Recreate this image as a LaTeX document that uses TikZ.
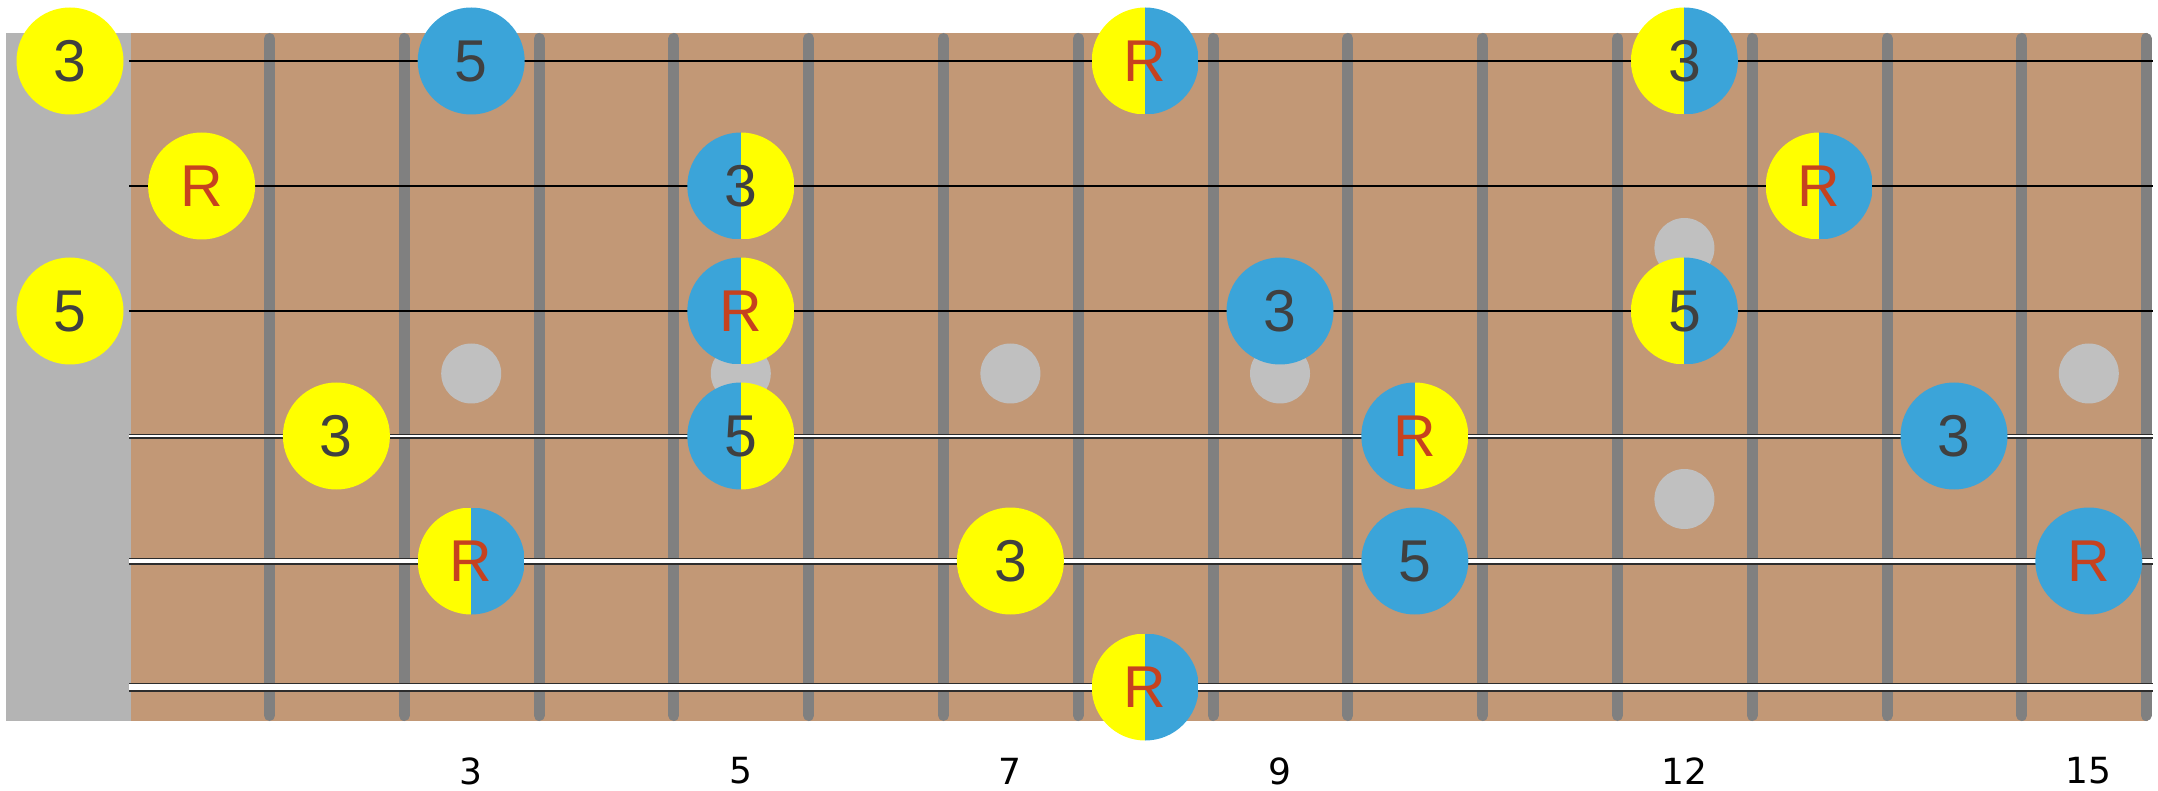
\documentclass[tikz,border=0pt]{standalone}
\usepackage{fontspec}
\setmainfont{Liberation Sans}
\newfontfamily\fretfont{DejaVu Sans}
\definecolor{wood}{RGB}{194,152,118}
\definecolor{nutgray}{RGB}{180,180,180}
\definecolor{fretgray}{RGB}{128,128,128}
\definecolor{dotgray}{RGB}{192,192,192}
\definecolor{yel}{RGB}{255,255,0}
\definecolor{blu}{RGB}{59,164,217}
\definecolor{numtxt}{RGB}{64,64,64}
\definecolor{roottxt}{RGB}{198,66,31}
\definecolor{strdark}{RGB}{45,45,45}
\begin{document}
\begin{tikzpicture}[x=1pt,y=-1pt,
  note/.style={circle, minimum size=107pt, inner sep=0pt, font=\fontsize{59}{60}\selectfont, text=numtxt},
  nY/.style={note, fill=yel},
  nB/.style={note, fill=blu},
  nYB/.style={note, path picture={
     \fill[yel] (path picture bounding box.south west) rectangle (path picture bounding box.north);
     \fill[blu] (path picture bounding box.south) rectangle (path picture bounding box.north east);}},
  nBY/.style={note, path picture={
     \fill[blu] (path picture bounding box.south west) rectangle (path picture bounding box.north);
     \fill[yel] (path picture bounding box.south) rectangle (path picture bounding box.north east);}},
  root/.style={text=roottxt},
  fretwire/.style={line width=11pt, draw=fretgray, line cap=round},
  inlay/.style={fill=dotgray},
  plainstr/.style={line width=2pt, draw=black},
  fretnum/.style={font=\fretfont\fontsize{36}{40}\selectfont, text=black, inner sep=0pt}
]
\useasboundingbox (0,0) rectangle (2158,791);
% fretboard and nut
\fill[wood] (131,33) rectangle (2148,721);
\fill[nutgray] (6,33) rectangle (131,721);
% frets
\foreach \k in {0,...,13}{
  \draw[fretwire] ({269.5+134.8*\k},38.5) -- ({269.5+134.8*\k},715.5);
}
\draw[fretwire] (2146,38.5) -- (2146,715.5);
% inlays
\foreach \n in {3,5,7,9,15}{
  \fill[inlay] ({201.6+134.8*(\n-1)},373.5) circle (30);
}
\fill[inlay] ({201.6+134.8*11},248) circle (30);
\fill[inlay] ({201.6+134.8*11},499) circle (30);
% strings
\coordinate (s1L) at (129,61);  \coordinate (s1R) at (2153,61);
\coordinate (s2L) at (129,186); \coordinate (s2R) at (2153,186);
\coordinate (s3L) at (129,311); \coordinate (s3R) at (2153,311);
\coordinate (s4L) at (129,436); \coordinate (s4R) at (2153,436);
\coordinate (s5L) at (129,561); \coordinate (s5R) at (2153,561);
\coordinate (s6L) at (129,687); \coordinate (s6R) at (2153,687);
\draw[plainstr] (s1L) -- (s1R);
\draw[plainstr] (s2L) -- (s2R);
\draw[plainstr] (s3L) -- (s3R);
\draw[line width=5pt, draw=strdark] (s4L) -- (s4R);
\draw[line width=2.8pt, draw=white] (s4L) -- (s4R);
\draw[line width=7pt, draw=strdark] (s5L) -- (s5R);
\draw[line width=4.6pt, draw=white] (s5L) -- (s5R);
\draw[line width=9pt, draw=strdark] (s6L) -- (s6R);
\draw[line width=6.4pt, draw=white] (s6L) -- (s6R);
% notes string 1
\node[nY] (a0) at (70,61) {3};
\node[nB] (a3) at (471.2,61) {5};
\node[nYB, root] (a8) at (1145.2,61) {R};
\node[nYB] (a12) at (1684.4,61) {3};
% string 2
\node[nY, root] (b1) at (201.6,186) {R};
\node[nBY] (b5) at (740.8,186) {3};
\node[nYB, root] (b13) at (1819.2,186) {R};
% string 3
\node[nY] (c0) at (70,311) {5};
\node[nBY, root] (c5) at (740.8,311) {R};
\node[nB] (c9) at (1280,311) {3};
\node[nYB] (c12) at (1684.4,311) {5};
% string 4
\node[nY] (d2) at (336.4,436) {3};
\node[nBY] (d5) at (740.8,436) {5};
\node[nBY, root] (d10) at (1414.8,436) {R};
\node[nB] (d14) at (1954,436) {3};
% string 5
\node[nYB, root] (e3) at (471.2,561) {R};
\node[nY] (e7) at (1010.4,561) {3};
\node[nB] (e10) at (1414.8,561) {5};
\node[nB, root] (e15) at (2088.8,561) {R};
% string 6
\node[nYB, root] (f8) at (1145.2,687) {R};
% fret numbers
\node[fretnum] (n3) at (471.2,771) {3};
\node[fretnum] (n5) at (740.8,771) {5};
\node[fretnum] (n7) at (1010.4,771) {7};
\node[fretnum] (n9) at (1280,771) {9};
\node[fretnum] (n12) at (1684.4,771) {12};
\node[fretnum] (n15) at (2088.8,771) {15};
\end{tikzpicture}
\end{document}
